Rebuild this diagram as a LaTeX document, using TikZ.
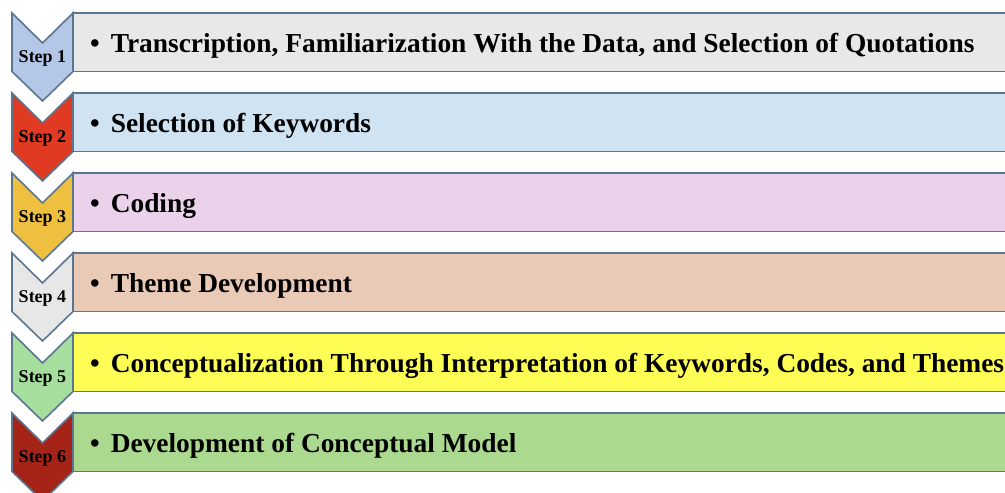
\documentclass[tikz,border=0pt]{standalone}
\usepackage{fontspec}
\setmainfont{Liberation Serif}
\definecolor{edge}{HTML}{5A7690}
\definecolor{chA}{HTML}{B4C7E7}
\definecolor{chB}{HTML}{E03A22}
\definecolor{chC}{HTML}{EFC040}
\definecolor{chD}{HTML}{E7E7E7}
\definecolor{chE}{HTML}{A6DE9E}
\definecolor{chF}{HTML}{A62318}
\definecolor{rbA}{HTML}{E8E8E8}
\definecolor{rbB}{HTML}{D0E3F2}
\definecolor{rbC}{HTML}{EBD2EB}
\definecolor{rbD}{HTML}{E9CAB6}
\definecolor{rbE}{HTML}{FDFD55}
\definecolor{rbF}{HTML}{AAD98F}
\tikzset{
  chev/.style={draw=edge, line width=1.6pt, line join=miter},
  bar/.style={draw=edge, line width=1.6pt},
  steplbl/.style={font=\fontsize{18}{20}\selectfont\bfseries, inner sep=0pt},
  barlbl/.style={font=\fontsize{27.4}{30}\selectfont\bfseries, inner sep=0pt, anchor=base west},
}
\begin{document}
\begin{tikzpicture}[x=1pt,y=-1pt]
\useasboundingbox (0,0) rectangle (1005,493);
\clip (0,0) rectangle (1005,493);
\foreach \i/\cc/\rc/\txt in {
  0/chA/rbA/{Transcription, Familiarization With the Data, and Selection of Quotations},
  1/chB/rbB/{Selection of Keywords},
  2/chC/rbC/{Coding},
  3/chD/rbD/{Theme Development},
  4/chE/rbE/{Conceptualization Through Interpretation of Keywords, Codes, and Themes},
  5/chF/rbF/{Development of Conceptual Model}}
{
  \pgfmathsetmacro{\d}{80*\i}
  \pgfmathtruncatemacro{\n}{\i+1}
  \draw[bar, fill=\rc] (73,13+\d) rectangle (1020,71.5+\d);
  \draw[chev, fill=\cc] (12,13+\d) -- (42.5,43+\d) -- (73,13+\d) -- (73,71.5+\d) -- (42.5,101+\d) -- (12,71.5+\d) -- cycle;
  \node[steplbl] (s\n) at (42.5,58+\d) {Step \n};
  \node[barlbl] (t\n) at (90,52+\d) {\textbullet\hspace{11pt}\txt};
}
\end{tikzpicture}
\end{document}
